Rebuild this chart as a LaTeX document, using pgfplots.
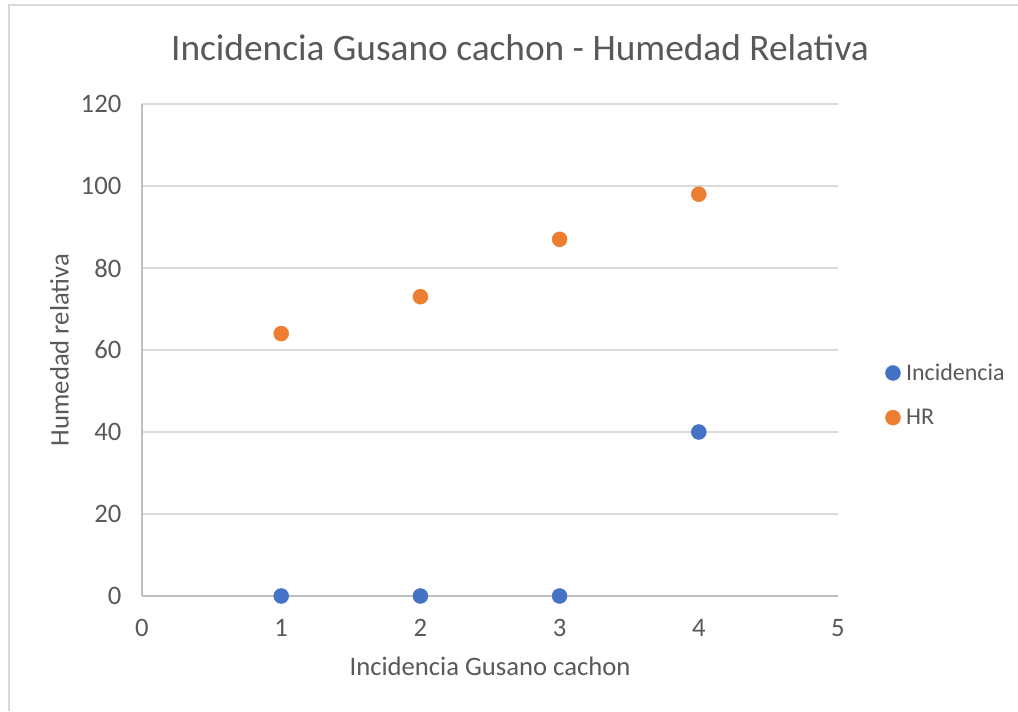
\documentclass[border=0pt]{standalone}
\usepackage{pgfplots}
\pgfplotsset{compat=1.18}
\usepackage{fontspec}
\setmainfont{Carlito}
\definecolor{txt}{HTML}{595959}
\definecolor{gridc}{HTML}{D9D9D9}
\definecolor{axc}{HTML}{BFBFBF}
\definecolor{blueS}{HTML}{4472C4}
\definecolor{orangeS}{HTML}{ED7D31}
\begin{document}
\begin{tikzpicture}
\path[use as bounding box] (0pt,0pt) rectangle (763.5pt,533.25pt);
\draw[gridc, line width=1pt] (6.75pt,0pt) -- (6.75pt,529.5pt) -- (763.5pt,529.5pt);
\node[txt, font=\fontsize{28}{33}\selectfont] at (390pt,497.5pt) {Incidencia Gusano cachon - Humedad Relativa};
\begin{axis}[
  at={(106.5pt,86.25pt)}, anchor=south west,
  scale only axis, width=522pt, height=369pt,
  xmin=0, xmax=5, ymin=0, ymax=120,
  xtick={0,1,2,3,4,5}, ytick={0,20,40,60,80,100,120},
  axis x line*=bottom, axis y line*=left,
  axis line style={axc, line width=1.2pt, -},
  major tick length=0pt,
  ymajorgrids, grid style={gridc, line width=1pt},
  /pgf/number format/assume math mode=true,
  tick label style={txt, font=\fontsize{20}{24}\selectfont},
  yticklabel style={xshift=-12pt},
  xticklabel style={yshift=-14pt},
  xlabel={Incidencia Gusano cachon},
  ylabel={Humedad relativa},
  label style={txt, font=\fontsize{20}{24}\selectfont},
  xlabel style={yshift=-8.5pt},
  ylabel style={yshift=2pt},
  clip=false,
  legend style={at={(1.0675,0.4085)}, anchor=west, draw=none, fill=none,
    font=\fontsize{18}{22}\selectfont, text=txt, row sep=16pt,
    inner sep=0pt, nodes={inner xsep=4pt}},
  legend cell align=left,
  legend image code/.code={\fill[#1] (0.2cm,0cm) circle (5.6pt);},
]
\addplot[only marks, mark=*, mark size=5.6pt, blueS, mark options={draw=blueS, fill=blueS}] coordinates {(1,0) (2,0) (3,0) (4,40)};
\addlegendentry{Incidencia}
\addplot[only marks, mark=*, mark size=5.6pt, orangeS, mark options={draw=orangeS, fill=orangeS}] coordinates {(1,64) (2,73) (3,87) (4,98)};
\addlegendentry{HR}
\end{axis}
\end{tikzpicture}
\end{document}
